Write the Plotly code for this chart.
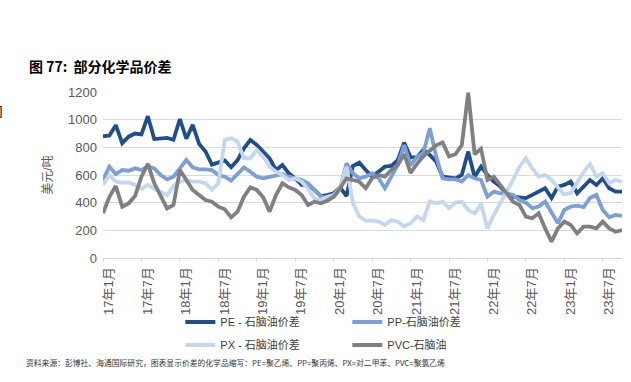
import plotly.graph_objects as go

# monthly categories Jan 2017 .. Oct 2023
years = list(range(17, 24))
months = [f"{y}年{m}月" for y in years for m in range(1, 13)][:82]

pe = [880, 885, 960, 830, 877, 900, 894, 1025, 860, 865,
      868, 855, 1005, 862, 962, 825, 770, 675, 690, 705,
      656, 708, 793, 853, 817, 769, 721, 636, 672, 612,
      576, 528, 528, 492, 448, 455, 468, 511, 448, 665,
      689, 636, 588, 624, 660, 665, 708, 834, 728, 728,
      781, 745, 697, 588, 585, 576, 600, 769, 585, 660,
      600, 552, 516, 468, 443, 440, 433, 456, 480, 504,
      433, 516, 528, 552, 468, 516, 564, 528, 576, 504,
      480, 480]
pp = [564, 660, 607, 636, 631, 648, 636, 665, 648, 600,
      569, 588, 648, 708, 656, 641, 641, 636, 600, 588,
      559, 612, 655, 624, 588, 576, 588, 600, 607, 588,
      575, 564, 540, 490, 445, 431, 440, 500, 684, 612,
      576, 588, 612, 576, 504, 588, 672, 817, 670, 730,
      760, 938, 733, 576, 569, 569, 552, 600, 576, 564,
      443, 480, 468, 468, 456, 419, 400, 360, 372, 408,
      323, 251, 347, 372, 378, 368, 433, 456, 347, 294,
      311, 304]
px = [530, 600, 552, 545, 547, 528, 500, 528, 500, 480,
      455, 520, 552, 564, 552, 552, 540, 495, 540, 853,
      865, 841, 721, 721, 781, 733, 660, 624, 600, 564,
      576, 552, 500, 430, 419, 443, 455, 510, 660, 400,
      300, 270, 270, 263, 239, 275, 263, 227, 251, 300,
      275, 410, 395, 407, 360, 400, 407, 347, 323, 390,
      214, 311, 395, 467, 564, 660, 720, 648, 588, 600,
      565, 510, 460, 470, 545, 620, 680, 588, 612, 540,
      564, 552]
pvc = [323, 443, 520, 371, 395, 448, 588, 680, 540, 443,
       359, 383, 636, 564, 492, 455, 419, 407, 371, 352,
       294, 335, 443, 511, 492, 439, 335, 455, 540, 511,
       492, 455, 383, 407, 395, 414, 443, 504, 576, 564,
       552, 504, 576, 600, 588, 636, 672, 750, 615, 680,
       735, 775, 815, 835, 735, 750, 817, 1195, 750, 790,
       564, 588, 528, 468, 407, 383, 299, 287, 323, 214,
       118, 214, 263, 239, 178, 227, 227, 214, 263, 214,
       190, 202]

names = ["PE - 石脑油价差", "PP-石脑油价差", "PX - 石脑油价差", "PVC-石脑油"]
colors = ["#1f4e8c", "#7b9fd8", "#c5d6ef", "#808080"]
legend_ids = ["legend", "legend", "legend2", "legend2"]
series = [pe, pp, px, pvc]

tick_idx = list(range(0, 82, 6))
tick_txt = [months[i] for i in tick_idx]

fig = go.Figure()
xs = list(range(len(months)))
for nm, col, ys, lg in zip(names, colors, series, legend_ids):
    fig.add_trace(go.Scatter(x=xs, y=ys, name=nm, mode="lines", legend=lg,
                             line=dict(color=col, width=3.8)))

font_fam = "Liberation Sans, Noto Sans CJK SC, sans-serif"
leg_common = dict(orientation="h", xanchor="left", yanchor="middle",
                  entrywidth=122, entrywidthmode="pixels",
                  font=dict(size=11, color="#404040"), itemwidth=30,
                  bgcolor="rgba(0,0,0,0)")
fig.update_layout(
    width=631, height=382,
    margin=dict(l=103, r=9, t=92, b=124),
    paper_bgcolor="white", plot_bgcolor="white",
    font=dict(family=font_fam, color="#595959", size=11),
    showlegend=True,
    legend=dict(x=0.149, y=-0.3855, **leg_common),
    legend2=dict(x=0.149, y=-0.524, **leg_common),
)
fig.update_xaxes(range=[0, 81], tickmode="array", tickvals=tick_idx, ticktext=tick_txt,
                 tickangle=-90, showgrid=False, zeroline=False,
                 showline=True, linecolor="#d9d9d9", linewidth=1,
                 ticks="outside", ticklen=3, tickcolor="#d9d9d9",
                 ticklabelshift=6,
                 tickfont=dict(size=13, color="#595959"))
fig.update_yaxes(range=[0, 1200], tickvals=[0, 200, 400, 600, 800, 1000, 1200],
                 showgrid=True, gridcolor="#d9d9d9", gridwidth=1, zeroline=False,
                 tickfont=dict(size=13, color="#595959"), ticks="",
                 ticklabelstandoff=5,
                 title=dict(text="美元/吨", font=dict(size=12, color="#595959"), standoff=12))

fig.add_annotation(text="<b>图 77:  部分化学品价差</b>", xref="paper", yref="paper",
                   x=-0.1465, y=1.155, xanchor="left", yanchor="middle", showarrow=False,
                   font=dict(size=14, color="#000000", family="Noto Sans CJK SC"))
fig.add_annotation(text="资料来源：彭博社、海通国际研究，图表显示价差的化学品缩写：PE=聚乙烯、PP=聚丙烯、PX=对二甲苯、PVC=聚氯乙烯",
                   xref="paper", yref="paper", x=-0.153, y=-0.627, xanchor="left", yanchor="middle",
                   showarrow=False, font=dict(size=7.8, color="#333333", family="Noto Sans CJK SC"))
fig.add_annotation(text="司", xref="paper", yref="paper", x=-0.189, y=0.886,
                   xanchor="right", yanchor="middle", showarrow=False,
                   font=dict(size=13, color="#000000", family="Noto Sans CJK SC"))

fig.write_html("out.html", config={"displayModeBar": False},
               post_script="document.body.style.margin='0px';")
